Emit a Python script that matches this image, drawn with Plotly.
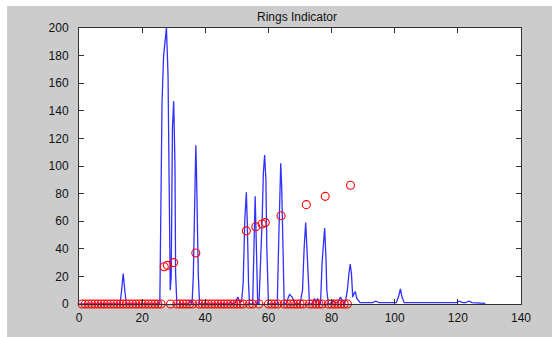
import plotly.graph_objects as go

# Blue signal polyline (vertices)
line_x = [0, 13, 13.5, 14, 14.5, 15, 25.6, 26.0, 26.3, 26.8, 27.2, 27.7, 28.2, 28.7, 28.9,
          29.2, 29.6, 30.0, 30.4, 30.6, 31.0, 34.5, 35.0, 35.5, 35.8, 36.2, 36.5, 36.8, 37.0,
          37.2, 37.5, 37.8, 38.2, 47.5, 48.0, 48.5, 49.5, 50.3, 50.8, 51.5, 52.0, 52.5, 53.0,
          53.3, 53.7, 54.0, 55.0, 55.5, 55.8, 56.2, 56.6, 57.0, 57.6, 58.0, 58.4, 58.8, 59.2,
          59.5, 60.0, 62.8, 63.3, 63.7, 63.9, 64.2, 64.6, 65.0, 65.5, 66.0, 66.7, 67.5, 68.5,
          70.0, 70.8, 71.3, 71.8, 72.2, 72.6, 73.0, 74.0, 74.6, 75.0, 75.6, 76.0, 76.5, 77.0,
          77.5, 77.8, 78.2, 78.5, 79.0, 80.0, 80.5, 81.0, 82.0, 82.8, 83.5, 84.0, 84.5, 85.0,
          85.5, 85.9, 86.3, 86.7, 87.0, 87.5, 88.0, 88.5, 89.0, 92.0, 93.0, 94.0, 95.0, 97.0,
          100.5, 101.3, 101.8, 102.3, 103.0, 104.0, 108.0, 110.0, 113.0, 118.0, 119.5, 120.5,
          121.5, 122.5, 123.5, 124.5, 126.0, 128.7]
line_y = [0, 0, 10, 22, 10, 0, 0, 88, 146, 180, 188, 200, 166, 35, 10,
          20, 128, 147, 100, 22, 0, 0, 2, 2, 0, 20, 60, 97, 115,
          97, 60, 20, 0, 0, 2, 0, 1, 5, 2, 2, 15, 60, 81,
          60, 15, 0, 0, 40, 78, 40, 0, 0, 30, 60, 95, 108, 90,
          40, 0, 0, 50, 85, 102, 85, 30, 0, 0, 3, 7, 5, 0,
          0, 10, 40, 59, 40, 15, 0, 0, 4, 1, 4, 0, 0, 30,
          45, 55, 35, 10, 0, 0, 3, 1, 1, 5, 2, 0, 3, 10,
          22, 29, 22, 5, 7, 9, 4, 2, 1, 1, 1, 2, 1, 1,
          1, 6, 11, 5, 1, 1, 1, 0.5, 1, 0.5, 1, 2,
          1, 1, 2, 1, 1, 0.5]

# Ring indicator markers: ring positions carry their own index, others sit at 0
ring_pos = [27, 28, 30, 37, 53, 56, 58, 59, 64, 72, 78, 86]
marker_x = list(range(1, 87))
marker_y = [x if x in ring_pos else 0 for x in marker_x]

x_ticks = [0, 20, 40, 60, 80, 100, 120, 140]
y_ticks = [0, 20, 40, 60, 80, 100, 120, 140, 160, 180, 200]

W, H = 552, 337
L, R, T, B = 79, 31, 28, 33
pw, ph = W - L - R, H - T - B

fig = go.Figure()
fig.add_trace(go.Scatter(x=line_x, y=line_y, mode="lines",
                         line=dict(color="#3030ff", width=1.3), hoverinfo="skip"))
fig.add_trace(go.Scatter(x=marker_x, y=marker_y, mode="markers", cliponaxis=False,
                         marker=dict(symbol="circle-open", size=8, color="#ff0000",
                                     line=dict(width=1.1, color="#ff0000"))))

axis_common = dict(showgrid=False, zeroline=False, showline=True, linecolor="#333333",
                   linewidth=1, mirror="ticks", ticks="inside", ticklen=5,
                   tickcolor="#333333", tickfont=dict(family="Liberation Sans", size=12, color="#111111"))

fig.update_layout(
    width=W, height=H,
    margin=dict(l=L, r=R, t=T, b=B, pad=0),
    paper_bgcolor="#cccccc", plot_bgcolor="white",
    showlegend=False,
    title=dict(text="Rings Indicator", x=(297) / W, xanchor="center", y=1 - 17 / H, yanchor="middle",
               font=dict(family="Liberation Sans", size=12, color="#111111")),
    xaxis=dict(range=[0, 140], tickvals=x_ticks, ticktext=[str(v) for v in x_ticks],
               ticklabelstandoff=3, **axis_common),
    yaxis=dict(range=[0, 200], tickvals=y_ticks, ticktext=[str(v) for v in y_ticks],
               ticklabelstandoff=7, **axis_common),
    shapes=[
        dict(type="rect", xref="paper", yref="paper", layer="below",
             x0=-L / pw - 0.01, x1=(7 - L) / pw, y0=-B / ph - 0.05, y1=(H - B) / ph + 0.05,
             fillcolor="white", line=dict(width=0)),
        dict(type="rect", xref="paper", yref="paper", layer="below",
             x0=-L / pw - 0.01, x1=1 + R / pw + 0.01, y0=(H - B - 6) / ph, y1=(H - B) / ph + 0.05,
             fillcolor="white", line=dict(width=0)),
    ],
)

fig.write_html("out.html", config={"displayModeBar": False},
               post_script="document.body.style.margin='0';document.body.style.padding='0';")
